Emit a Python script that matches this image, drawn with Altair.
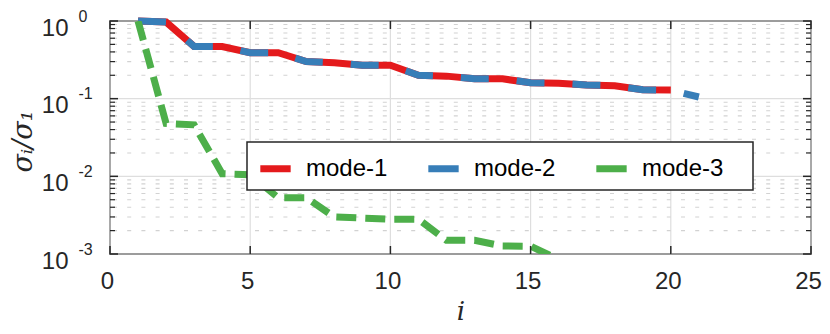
import altair as alt
import pandas as pd

# ---- data ----
x_m1 = list(range(1, 21))
y_m1 = [1.0, 0.97, 0.47, 0.47, 0.39, 0.39, 0.30, 0.29, 0.27, 0.27,
        0.20, 0.195, 0.18, 0.18, 0.16, 0.158, 0.15, 0.147, 0.13, 0.129]
x_m2 = list(range(1, 22))
y_m2 = [1.0, 0.97, 0.47, 0.47, 0.39, 0.39, 0.30, 0.29, 0.27, 0.27,
        0.20, 0.195, 0.18, 0.18, 0.16, 0.158, 0.15, 0.147, 0.13, 0.129, 0.105]
x_m3 = list(range(1, 17))
y_m3 = [1.0, 0.048, 0.046, 0.0108, 0.0105, 0.0053, 0.0053, 0.0030, 0.0029,
        0.0028, 0.0028, 0.0015, 0.0015, 0.00127, 0.00126, 0.00085]

series_names = ["mode-1", "mode-2", "mode-3"]
series_colors = ["#e41a1c", "#377eb8", "#4daf4a"]

x_ticks = [0, 5, 10, 15, 20, 25]
y_decades = [1, 0.1, 0.01, 0.001]
y_minor = [2e-3, 3e-3, 4e-3, 5e-3, 6e-3, 7e-3, 8e-3, 9e-3,
           2e-2, 3e-2, 4e-2, 5e-2, 6e-2, 7e-2, 8e-2, 9e-2,
           0.2, 0.3, 0.4, 0.5, 0.6, 0.7, 0.8, 0.9]

W, H = 701, 233
AX = "#262626"
FONT = "Liberation Sans"

xs = alt.Scale(domain=[0, 25], nice=False, zero=False)
ys = alt.Scale(type="log", domain=[0.001, 1], nice=False)

x_axis = alt.Axis(values=x_ticks, domain=False, ticks=False, grid=False,
                  labelFontSize=24, labelFont=FONT, labelColor=AX, labelPadding=15,
                  labelFlush=False, labelOffset=-3, title="i", titleFont="DejaVu Serif",
                  titleFontStyle="italic", titleFontWeight="normal", titleFontSize=26,
                  titleColor=AX, titleY=65, titleBaseline="alphabetic")

# y axis 1: mantissa "10" + axis title
y_axis_base = alt.Axis(orient="left", values=y_decades, domain=False, ticks=False, grid=False,
                       labelExpr="'10'", labelFontSize=24, labelFont=FONT, labelColor=AX,
                       labelAlign="right", labelBaseline="alphabetic", labelPadding=42,
                       labelOffset=14, labelFlush=False, labelOverlap=False,
                       title="σᵢ/σ₁", titleFont="DejaVu Serif", titleFontStyle="italic",
                       titleFontWeight="normal", titleFontSize=27, titleColor=AX,
                       titleX=-87, titleY=120, titleAngle=270, titleAlign="center",
                       titleBaseline="middle")
# y axis 2: exponents as superscripts
y_axis_exp = alt.Axis(orient="left", values=y_decades, domain=False, ticks=False, grid=False,
                      labelExpr="'' + round(log(datum.value) / LN10)",
                      labelFontSize=16, labelFont=FONT, labelColor=AX,
                      labelAlign="left", labelBaseline="alphabetic", labelPadding=32,
                      labelOffset=0, labelFlush=False, labelOverlap=False, title=None)

def X():
    return alt.X("x:Q", scale=xs, axis=x_axis)

def Y(axis=None):
    return alt.Y("v:Q", scale=ys, axis=axis)

xt_df = pd.DataFrame({"x": x_ticks})
yd_df = pd.DataFrame({"v": y_decades})
ym_df = pd.DataFrame({"v": y_minor})

lines_df = pd.DataFrame({
    "x": x_m1 + x_m2 + x_m3,
    "v": y_m1 + y_m2 + y_m3,
    "series": ["mode-1"] * len(x_m1) + ["mode-2"] * len(x_m2) + ["mode-3"] * len(x_m3),
})

# grids
grid_v = alt.Chart(xt_df).mark_rule(color="#dedede", strokeWidth=1.2).encode(
    x=X(), y=alt.value(0), y2=alt.value(H))
grid_h = alt.Chart(yd_df).mark_rule(color="#dedede", strokeWidth=1.2).encode(
    y=Y(y_axis_base), x=alt.value(0), x2=alt.value(W))
grid_minor = alt.Chart(ym_df).mark_rule(color="#d2d2d2", strokeWidth=1.1,
                                        strokeDash=[4, 10.2], strokeDashOffset=-3).encode(
    y=Y(), x=alt.value(0), x2=alt.value(W))

legend = alt.Legend(title=None, orient="none", legendX=139, legendY=121,
                    direction="horizontal", symbolType="M-1.4,0H1.4", symbolSize=470,
                    symbolStrokeWidth=7, symbolDash=[1, 0], labelFontSize=24,
                    labelFont=FONT, labelColor="black", labelOffset=16,
                    columnPadding=26, padding=12,
                    labelExpr="datum.label + '\u00a0\u00a0'")
color = alt.Color("series:N", scale=alt.Scale(domain=series_names, range=series_colors),
                  legend=legend)

def line_layer(name, dash, clip=False):
    kw = dict(strokeWidth=7, strokeCap="butt", strokeJoin="miter", clip=clip)
    if dash:
        kw["strokeDash"] = dash
    return alt.Chart(lines_df).transform_filter(
        alt.datum.series == name).mark_line(**kw).encode(x=X(), y=Y(), color=color)

l1 = line_layer("mode-1", None)
l2 = line_layer("mode-2", [28, 28])
l3 = line_layer("mode-3", [20, 9], clip=True)

# legend frame (white box under the legend entries, over the lines)
legend_box = alt.Chart(xt_df.head(1)).mark_rect(
    fill="white", stroke=AX, strokeWidth=1.5).encode(
    x=alt.value(137), x2=alt.value(643), y=alt.value(121), y2=alt.value(169))

# inward ticks
TK, TKm = 8, 5
tick_bottom = alt.Chart(xt_df).mark_rule(color=AX, strokeWidth=1.5).encode(
    x=X(), y=alt.value(H - TK), y2=alt.value(H))
tick_top = alt.Chart(xt_df).mark_rule(color=AX, strokeWidth=1.5).encode(
    x=X(), y=alt.value(0), y2=alt.value(TK))
tick_left = alt.Chart(yd_df).mark_rule(color=AX, strokeWidth=1.5).encode(
    y=Y(y_axis_exp), x=alt.value(0), x2=alt.value(TK))
tick_right = alt.Chart(yd_df).mark_rule(color=AX, strokeWidth=1.5).encode(
    y=Y(), x=alt.value(W - TK), x2=alt.value(W))
mtick_left = alt.Chart(ym_df).mark_rule(color=AX, strokeWidth=1.2).encode(
    y=Y(), x=alt.value(0), x2=alt.value(TKm))
mtick_right = alt.Chart(ym_df).mark_rule(color=AX, strokeWidth=1.2).encode(
    y=Y(), x=alt.value(W - TKm), x2=alt.value(W))

chart = alt.layer(
    grid_v, grid_h, grid_minor, l1, l2, l3,
    tick_bottom, tick_top, tick_left, tick_right, mtick_left, mtick_right,
    legend_box,
).resolve_axis(y="independent").properties(
    width=W, height=H,
    autosize=alt.AutoSizeParams(type="none"),
    padding={"left": 102, "top": 13, "right": 11, "bottom": 70},
).configure_view(stroke=AX, strokeWidth=1.5)

chart.save("out.html", embed_options={"renderer": "svg", "actions": False})
